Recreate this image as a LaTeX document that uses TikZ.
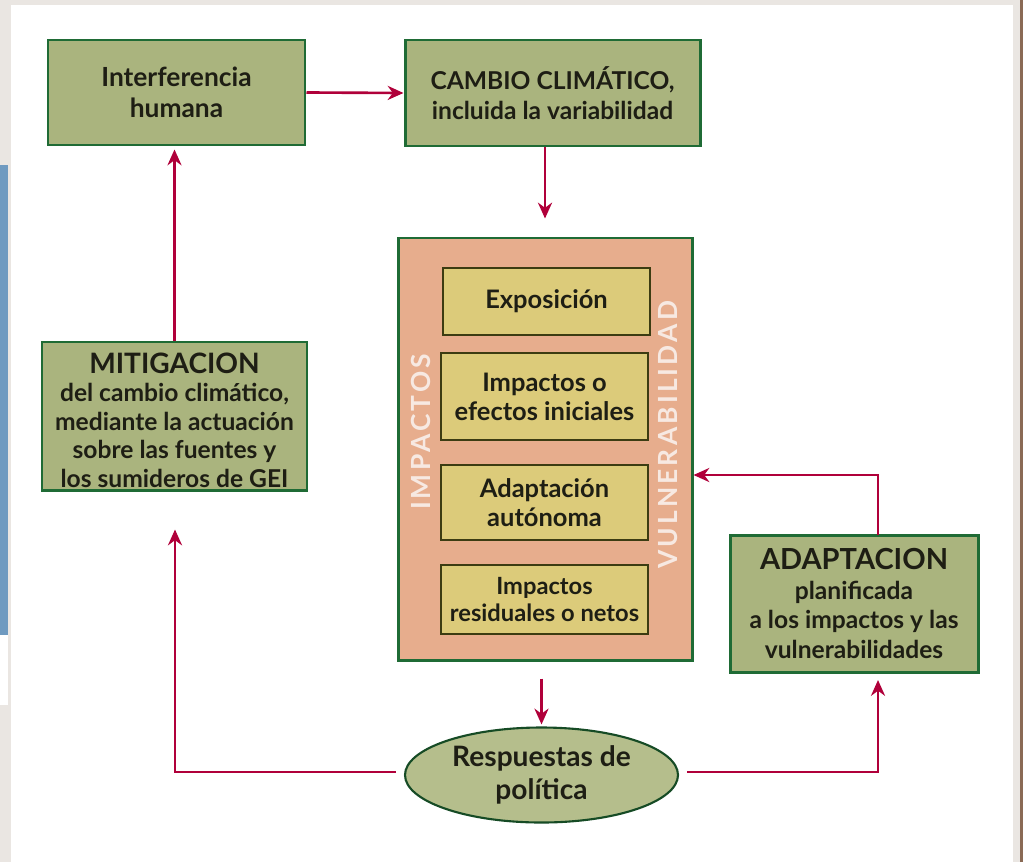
\documentclass[tikz,border=0pt]{standalone}
\usepackage{fontspec}
\setmainfont{Lato}
\usetikzlibrary{shapes.geometric,arrows.meta,calc}
\definecolor{bggrey}{HTML}{EAE6E2}
\definecolor{stripblue}{HTML}{6F9AC0}
\definecolor{stripbrown}{HTML}{8A6A55}
\definecolor{boxgreen}{HTML}{AAB47E}
\definecolor{edgegreen}{HTML}{1F6B35}
\definecolor{pinkfill}{HTML}{E7AD8D}
\definecolor{yellowfill}{HTML}{DCCB7A}
\definecolor{oliveedge}{HTML}{3C3C12}
\definecolor{ellfill}{HTML}{B5BE8C}
\definecolor{arrowred}{HTML}{B0003A}
\definecolor{txt}{HTML}{1E1E14}
\definecolor{vtxt}{HTML}{F7E9E2}
\tikzset{
  greenbox/.style={draw=edgegreen, line width=1.7pt, fill=boxgreen, text=txt,
    align=center, inner sep=1pt, font=\bfseries\fontsize{14}{16.8}\selectfont},
  yelbox/.style={draw=oliveedge, line width=1.5pt, fill=yellowfill, text=txt,
    align=center, inner sep=1pt, minimum width=207*0.02cm,
    font=\bfseries\fontsize{14.5}{16.5}\selectfont},
  bigbox/.style={draw=edgegreen, line width=1.7pt, fill=pinkfill},
  vlabel/.style={text=vtxt, rotate=90, font=\bfseries\fontsize{15}{16}\selectfont\addfontfeature{LetterSpace=12}},
  ellnode/.style={ellipse, draw=edgegreen!70!black, line width=1.2pt, fill=ellfill, text=txt,
    align=center, inner sep=0pt, font=\bfseries\fontsize{16}{19}\selectfont},
  link/.style={draw=arrowred, line width=1.5pt, -{Stealth[length=9pt,width=8pt]}},
}
\begin{document}
\begin{tikzpicture}[x=0.02cm,y=-0.02cm]
\useasboundingbox (0,0) rectangle (1023,862);
% background
\fill[bggrey] (0,0) rectangle (1023,862);
\fill[white] (11,5) rectangle (1013,862);
\fill[stripblue] (0,165) rectangle (8,635);
\fill[white] (0,635) rectangle (8,705);
\fill[stripbrown] (1020,0) rectangle (1023,862);

% nodes
\node[greenbox, minimum width=257*0.02cm, minimum height=105*0.02cm, font=\bfseries\fontsize{15}{17.5}\selectfont] (inter) at (176.5,92.5) {Interferencia\\humana};
\node[greenbox, minimum width=295*0.02cm, minimum height=106*0.02cm] (cambio) at (552.5,93) {CAMBIO CLIMÁTICO,\\incluida la variabilidad};
\node[bigbox, minimum width=294*0.02cm, minimum height=422*0.02cm] (pink) at (545,449) {};
\node[yelbox, minimum height=67*0.02cm] (expo) at (546.5,301.5) {Exposición};
\node[yelbox, minimum height=87*0.02cm] (impi) at (544.5,396.5) {Impactos o\\efectos iniciales};
\node[yelbox, minimum height=75*0.02cm] (adaut) at (544.5,502.5) {Adaptación\\autónoma};
\node[yelbox, minimum height=69*0.02cm, font=\bfseries\fontsize{13.5}{15}\selectfont] (resid) at (544.5,599.5) {Impactos\\residuales o netos};
\node[vlabel] (vimp) at (421,432) {IMPACTOS};
\node[vlabel] (vvul) at (668,435) {VULNERABILIDAD};
\node[greenbox, minimum width=265*0.02cm, minimum height=148*0.02cm,
  label={[text=txt, align=center, font=\bfseries\fontsize{14}{16.2}\selectfont, yshift=-4*0.02cm]center:{\fontsize{16}{17}\selectfont MITIGACION}\\del cambio climático,\\mediante la actuación\\sobre las fuentes y\\los sumideros de GEI}] (mit) at (174.5,416) {};
\node[greenbox, minimum width=248*0.02cm, minimum height=137*0.02cm] (adap) at (854,603.5)
  {{\fontsize{16.5}{18}\selectfont ADAPTACION}\\planificada\\a los impactos y las\\vulnerabilidades};
\node[ellnode, minimum width=273*0.02cm, minimum height=95*0.02cm] (resp) at (541.5,775) {Respuestas de\\política};

% coordinates
\coordinate (adtop) at (878,535);
\coordinate (adcorner) at (878,475);
\coordinate (adbot) at (878,672);
\coordinate (rcorner) at (878,772);
\coordinate (lcorner) at (175,772);

% connectors
\draw[link] (inter.east) -- (cambio.west);
\draw[link, shorten >=18*0.02cm] (cambio.south -| pink.north) -- (pink.north);
\draw[link, shorten >=3*0.02cm] (mit.north) -- (mit.north |- inter.south);
\draw[link] (adtop) -- (adcorner) -- (pink.east |- adcorner);
\draw[link, shorten <=17*0.02cm, shorten >=2*0.02cm] (pink.south -| resp.north) -- (resp.north);
\draw[link, shorten <=8*0.02cm, shorten >=38*0.02cm] (resp.west |- lcorner) -- (lcorner) -- (lcorner |- mit.south);
\draw[link, shorten <=8*0.02cm, shorten >=8*0.02cm] (resp.east |- rcorner) -- (rcorner) -- (adbot);
\end{tikzpicture}
\end{document}
